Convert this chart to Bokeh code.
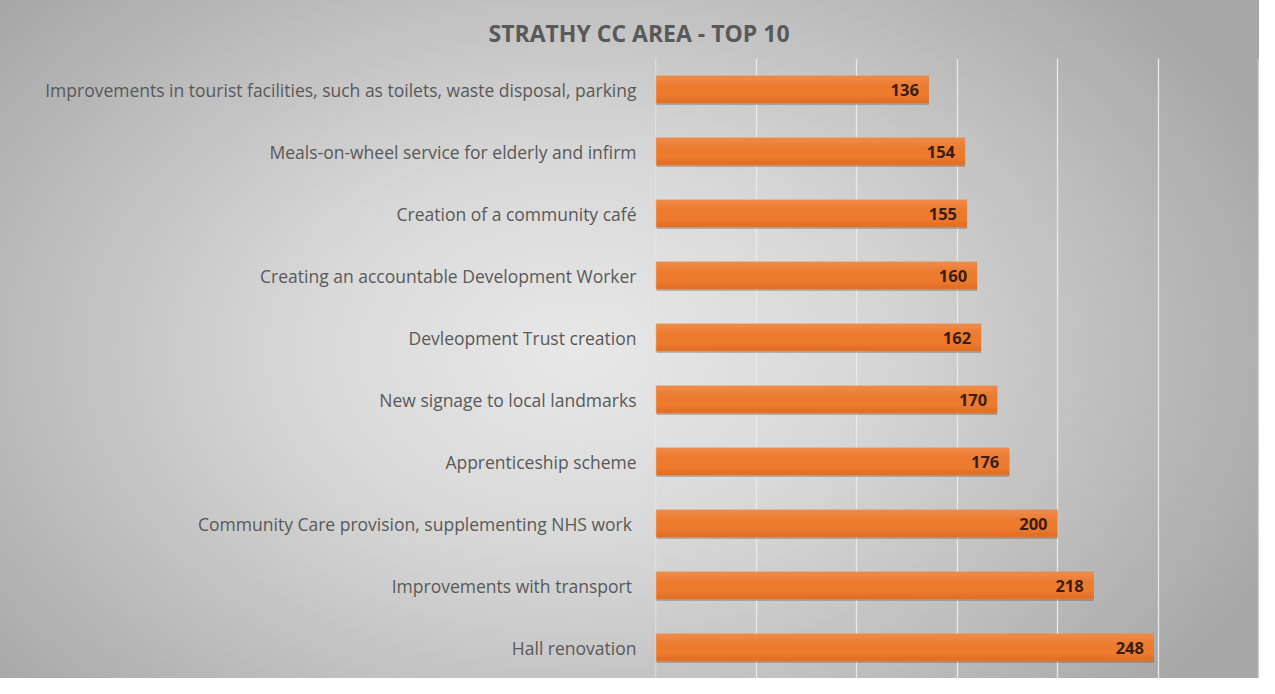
from bokeh.plotting import figure
from bokeh.models import ColumnDataSource, FactorRange, SingleIntervalTicker, Title, Span
from bokeh.transform import dodge
from bokeh.core.properties import value
from bokeh.embed import file_html
from bokeh.resources import INLINE

# Data (bottom to top)
categories = [
    "Hall renovation",
    "Improvements with transport ",
    "Community Care provision, supplementing NHS work ",
    "Apprenticeship scheme",
    "New signage to local landmarks",
    "Devleopment Trust creation",
    "Creating an accountable Development Worker",
    "Creation of a community café",
    "Meals-on-wheel service for elderly and infirm",
    "Improvements in tourist facilities, such as toilets, waste disposal, parking",
]
values = [248, 218, 200, 176, 170, 162, 160, 155, 154, 136]
value_labels = [str(v) for v in values]
x_min, x_max = 0, 300

source = ColumnDataSource(dict(cat=categories, val=values, lab=value_labels))

W, H = 1259, 678
p = figure(
    width=W, height=H,
    y_range=FactorRange(*categories),
    x_range=(x_min, x_max),
    output_backend="svg",
    toolbar_location=None,
    min_border_left=655, min_border_right=1, min_border_top=58, min_border_bottom=0,
    border_fill_color=None, background_fill_color=None, outline_line_color=None,
)
p.styles = {"background": "radial-gradient(ellipse 60% 78% at 46% 52%, #e8e8e8 0%, #d9d9d9 35%, #bdbdbd 72%, #a7a7a7 100%)"}

t = Title(text="STRATHY CC AREA - TOP 10", align="left", offset=-167,
          text_font="Open Sans", text_font_size="23px", text_font_style="bold",
          text_color="#595959", standoff=20)
p.add_layout(t, "above")

# grid
grid_color = "#e9e9e9"
p.xaxis.visible = False
p.xaxis.ticker = SingleIntervalTicker(interval=50)
p.xgrid.ticker = SingleIntervalTicker(interval=50)
p.xgrid.grid_line_color = grid_color
p.xgrid.grid_line_width = 1.3
for loc in (x_min, x_max):
    p.add_layout(Span(location=loc, dimension="height", line_color=grid_color, line_width=1.3))
p.ygrid.grid_line_color = None

# y axis labels
ya = p.yaxis[0]
ya.axis_line_color = None
ya.major_tick_line_color = None
ya.minor_tick_line_color = None
ya.major_tick_out = 0
ya.major_label_standoff = 19
ya.major_label_text_font = "Open Sans"
ya.major_label_text_font_size = "17.5px"
ya.major_label_text_color = "#595959"

bh = 0.44
# shadow
p.hbar(y=dodge("cat", -0.03, range=p.y_range), right="val", left=0.5, height=bh,
       source=source, fill_color="#4a4a4a", fill_alpha=0.3, line_color=None)
# base bar
p.hbar(y="cat", right="val", left=0, height=bh, source=source,
       fill_color="#EC7B2E", line_color=None)
# gradient bands (top lighter, bottom darker)
bands = [(0.42, 0.16, "#F3925A", 0.55), (0.30, 0.12, "#F18A4C", 0.45), (0.18, 0.12, "#EF8340", 0.35),
         (-0.30, 0.12, "#E6712A", 0.45), (-0.42, 0.16, "#DE6A20", 0.6)]
for pos, frac, col, a in bands:
    p.hbar(y=dodge("cat", pos * bh, range=p.y_range), right="val", left=0, height=frac * bh,
           source=source, fill_color=col, fill_alpha=a, line_color=None)

p.text(x="val", y="cat", text="lab", source=source, x_offset=-10,
       text_align="right", text_baseline="middle",
       text_font=value("Open Sans"), text_font_size="16.5px", text_font_style="bold",
       text_color="#3a1d0e")

open("out.html", "w").write(file_html(p, INLINE))
